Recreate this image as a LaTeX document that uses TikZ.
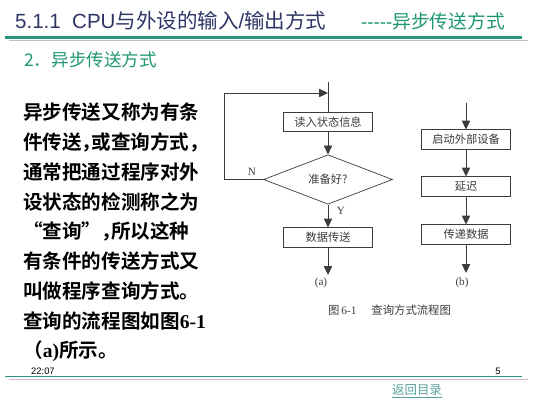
\documentclass[tikz,border=0pt]{standalone}
\usepackage{fontspec}
\setmainfont{Liberation Sans}
\newfontfamily\cjk{Noto Sans CJK SC}[BoldFont={* Bold}]
\newfontfamily\tnr{Liberation Serif}
\usepackage{xcolor}
\usetikzlibrary{arrows.meta, shapes.geometric}
\definecolor{titleblue}{RGB}{45,52,100}
\definecolor{tealtext}{RGB}{30,150,115}
\definecolor{tealline}{RGB}{40,150,130}
\definecolor{grayline}{RGB}{200,186,200}
\definecolor{linkteal}{RGB}{90,160,155}
\definecolor{chartgray}{RGB}{60,60,60}
\newcommand\halfcomma{\makebox[0.5em][l]{，}}

\begin{document}
\begin{tikzpicture}[x=0.03cm, y=-0.03cm, >={Triangle[length=7.5pt, width=7pt]},
    box/.style={draw=chartgray, line width=0.6pt, minimum width=2.67cm, minimum height=0.58cm, inner sep=0pt, text=chartgray, font=\cjk\fontsize{9.6}{11}\selectfont},
    decision/.style={diamond, draw=chartgray, line width=0.6pt, minimum width=3.87cm, minimum height=1.23cm, inner sep=0pt, text=chartgray, font=\cjk\fontsize{9.6}{11}\selectfont},
    flow/.style={->, draw=chartgray, line width=0.6pt},
    mark label/.style={text=chartgray, inner sep=0pt, font=\tnr\fontsize{9.5}{11}\selectfont},
    body/.style={anchor=west, inner sep=0pt, font=\cjk\bfseries\fontsize{16.7}{20}\selectfont}]
    \useasboundingbox (0,0) rectangle (533,400);

    \node[anchor=west, inner sep=0pt, text=titleblue, font=\fontsize{17.5}{20}\selectfont] (title) at (15,21) {5.1.1\ \ CPU{\cjk 与外设的输入}/{\cjk 输出方式}};
    \node[anchor=east, inner sep=0pt, text=tealtext, font=\fontsize{16}{20}\selectfont] (subtitle) at (505,21) {{-}{-}{-}{-}{-}{\cjk 异步传送方式}};
    \draw[tealline, line width=1.8pt] (5,37.5) -- (522,37.5);
    \draw[grayline, line width=1.4pt] (9,40.5) -- (528,40.5);
    \node[anchor=west, inner sep=0pt, text=tealtext, font=\cjk\fontsize{15}{18}\selectfont] (section) at (24,60) {2．异步传送方式};

    \foreach \txt [count=\i from 0] in {异步传送又称为有条, 件传送\halfcomma 或查询方式\halfcomma, 通常把通过程序对外, 设状态的检测称之为, “查询”\halfcomma 所以这种, 有条件的传送方式又, 叫做程序查询方式。, 查询的流程图如图{\tnr 6-1}, （{\tnr a)}所示。}
        \node[body] (line\i) at (23,112.3+29.8*\i) {\txt};

    \coordinate (topa) at (328,82);
    \coordinate (join) at (328,93);
    \coordinate (loop) at (224,93);
    \node[box] (read) at (328,122) {读入状态信息};
    \node[decision] (ready) at (328,179.5) {准备好?};
    \node[box] (send) at (328,237.5) {数据传送};
    \coordinate (enda) at (328,275);
    \draw[chartgray, line width=0.6pt] (topa) -- (read);
    \draw[flow] (read) -- (ready);
    \draw[flow] (ready) -- (send);
    \draw[flow] (send) -- (enda);
    \draw[flow] (ready.west) -| (loop) -- (join);
    \node[mark label] (no) at (252,172) {N};
    \node[mark label] (yes) at (341,211) {Y};
    \node[mark label] (capa) at (321,283) {(a)};

    \coordinate (topb) at (466,103);
    \node[box] (boot) at (466,139.5) {启动外部设备};
    \node[box] (delay) at (466,186.5) {延迟};
    \node[box] (pass) at (466,234.5) {传递数据};
    \coordinate (endb) at (466,273);
    \draw[flow] (topb) -- (boot);
    \draw[flow] (boot) -- (delay);
    \draw[flow] (delay) -- (pass);
    \draw[flow] (pass) -- (endb);
    \node[mark label] (capb) at (462,283) {(b)};

    \node[anchor=west, inner sep=0pt, text=chartgray, font=\cjk\fontsize{9.7}{11}\selectfont] (caption) at (328,310) {图\,{\tnr 6-1}\hspace{1.3em}查询方式流程图};

    \node[anchor=west, inner sep=0pt, font=\fontsize{8}{9}\selectfont] (time) at (31,371) {22:07};
    \node[inner sep=0pt, font=\fontsize{8}{9}\selectfont] (page) at (498,371) {5};
    \draw[tealline, line width=1.4pt] (5,376.5) -- (522,376.5);
    \draw[grayline, line width=1.2pt] (9,379.5) -- (528,379.5);
    \node[inner sep=0pt, text=linkteal, font=\cjk\fontsize{10.6}{13}\selectfont] (back) at (417,391) {\underline{返回目录}};
\end{tikzpicture}
\end{document}
